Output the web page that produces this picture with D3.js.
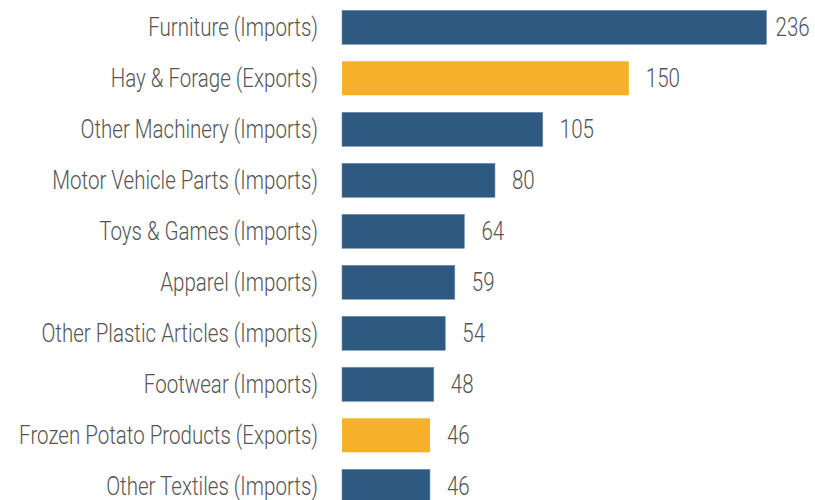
<!DOCTYPE html>
<html>
<head>
<meta charset="utf-8">
<script src="https://cdn.jsdelivr.net/npm/d3@7"></script>
<style>
  body { margin: 0; background: #fff; }
  svg { display: block; }
</style>
</head>
<body>
<div id="chart"></div>
<script>
var categories = [
    "Furniture (Imports)",
    "Hay & Forage (Exports)",
    "Other Machinery (Imports)",
    "Motor Vehicle Parts (Imports)",
    "Toys & Games (Imports)",
    "Apparel (Imports)",
    "Other Plastic Articles (Imports)",
    "Footwear (Imports)",
    "Frozen Potato Products (Exports)",
    "Other Textiles (Imports)"
];
var values = [236, 150, 105, 80, 64, 59, 54, 48, 46, 46];
var flows = ["Imports", "Exports", "Imports", "Imports", "Imports", "Imports", "Imports", "Imports", "Exports", "Imports"];

var w = 815;
var h = 500;

// axis tops out before the largest bar, so it gets clipped at the edge
var xMax = 222;
var xLeft = 342;
var xRight = 766.5;

var dataset = categories.map(function (c, i) {
    return { name: c, value: values[i], flow: flows[i] };
});

var svg = d3.select("#chart").append("svg").attr("width", w).attr("height", h);

var xScale = d3.scaleLinear().domain([0, xMax]).range([xLeft, xRight]).clamp(true);

var yScale = d3.scaleBand()
    .domain(categories)
    .range([1.8, 511.8])
    .paddingInner(1 / 3)
    .paddingOuter(1 / 6);

var colors = d3.scaleOrdinal().domain(["Imports", "Exports"]).range(["#2e5981", "#f6b12a"]);

// condensed look: no narrow font installed, so squeeze Roboto horizontally
var font = "Roboto, 'DejaVu Sans Condensed', sans-serif";
var fontSize = "26px";
var sx = 0.79;

svg.append("g")
    .selectAll("rect")
    .data(dataset)
    .enter()
    .append("rect")
    .attr("x", xScale(0))
    .attr("y", function (d) { return yScale(d.name); })
    .attr("width", function (d) { return xScale(d.value) - xScale(0); })
    .attr("height", yScale.bandwidth())
    .attr("fill", function (d) { return colors(d.flow); })
    .attr("stroke", function (d) { return d.flow == "Imports" ? "#6f8fb3" : "none"; })
    .attr("stroke-width", 0.6);

//category labels via a left axis with no line/ticks
var yAxis = d3.axisLeft(yScale).tickSize(0).tickPadding(24);
var yg = svg.append("g")
    .attr("transform", "translate(" + xLeft + ",0)")
    .call(yAxis);
yg.select(".domain").remove();
yg.selectAll("text")
    .attr("x", -24 / sx)
    .attr("transform", "scale(" + sx + ",1)")
    .attr("font-family", font)
    .attr("font-size", fontSize)
    .attr("font-weight", 300)
    .attr("fill", "#555")
    .attr("dy", "0.35em");

//value labels
svg.append("g")
    .selectAll("text")
    .data(dataset)
    .enter()
    .append("text")
    .attr("transform", function (d) {
        var x = xScale(d.value) + (d.value > xMax ? 9 : 17);
        var y = yScale(d.name) + yScale.bandwidth() / 2;
        return "translate(" + x + "," + y + ") scale(" + sx + ",1)";
    })
    .attr("dy", "0.35em")
    .attr("font-family", font)
    .attr("font-size", fontSize)
    .attr("font-weight", 300)
    .attr("fill", "#555")
    .text(function (d) { return d.value; });
</script>
</body>
</html>
